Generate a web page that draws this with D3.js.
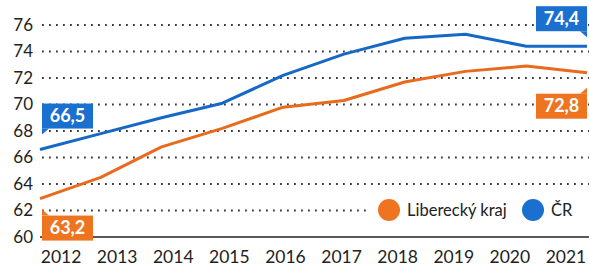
<!DOCTYPE html>
<html>
<head>
<meta charset="utf-8">
<script src="https://cdn.jsdelivr.net/npm/d3@7"></script>
<style>
  html, body { margin: 0; padding: 0; background: #fff; }
  svg { display: block; font-family: Lato, "Liberation Sans", sans-serif; }
</style>
</head>
<body>
<svg id="chart" width="589" height="268"></svg>
<script>
const years      = [2012, 2013, 2014, 2015, 2016, 2017, 2018, 2019, 2020, 2021];
const liberecky  = [62.9, 64.5, 66.8, 68.2, 69.8, 70.3, 71.7, 72.5, 72.9, 72.4];
const cr         = [66.6, 67.8, 69.0, 70.1, 72.2, 73.8, 75.0, 75.3, 74.4, 74.4];
const yTicks     = [60, 62, 64, 66, 68, 70, 72, 74, 76];
const seriesNames = ['Liberecký kraj', 'ČR'];
const startLabels = ['63,2', '66,5'];
const endLabels   = ['72,8', '74,4'];

(function () {
  const ORANGE = '#ee7420';
  const BLUE   = '#1a6fcf';
  const series = [
    { name: seriesNames[0], values: liberecky, color: ORANGE, line: '#e86a1c' },
    { name: seriesNames[1], values: cr,        color: BLUE,   line: '#1668c8' }
  ];

  const svg = d3.select('#chart');

  // lines are spread across the plot, year labels sit in even bands
  const x = d3.scalePoint().domain(years).range([40, 587]);
  const xLab = d3.scaleBand().domain(years).range([33, 594]);
  const y = d3.scaleLinear().domain([60, 76]).range([237, 25]);

  // dotted grid
  svg.append('g')
    .selectAll('line')
    .data(yTicks.filter(d => d > 60))
    .join('line')
    .attr('x1', 42).attr('x2', 589)
    .attr('y1', d => y(d)).attr('y2', d => y(d))
    .attr('stroke', '#3a3a3a')
    .attr('stroke-width', 1.8)
    .attr('stroke-dasharray', '1.8,5.2');

  // baseline
  svg.append('line')
    .attr('x1', 40).attr('x2', 589)
    .attr('y1', y(60)).attr('y2', y(60))
    .attr('stroke', '#222')
    .attr('stroke-width', 1.5);

  // y axis labels
  const yAxis = svg.append('g')
    .attr('transform', 'translate(33,0)')
    .call(d3.axisLeft(y).tickValues(yTicks).tickSize(0).tickPadding(0));
  yAxis.select('.domain').remove();
  yAxis.selectAll('text')
    .attr('fill', '#222')
    .attr('font-size', '17px')
    .attr('font-family', 'Lato, sans-serif');

  // x axis labels
  const xAxis = svg.append('g')
    .attr('transform', 'translate(0,251)')
    .call(d3.axisBottom(xLab).tickSize(0).tickPadding(0));
  xAxis.select('.domain').remove();
  xAxis.selectAll('text')
    .attr('fill', '#222')
    .attr('font-size', '17.5px')
    .attr('font-family', 'Lato, sans-serif');

  // legend, with a white patch behind it
  const legend = svg.append('g');
  legend.append('rect')
    .attr('x', 370).attr('y', 198).attr('width', 219).attr('height', 26)
    .attr('fill', '#fff');
  const legendX = [389, 533];
  series.forEach((s, i) => {
    legend.append('circle')
      .attr('cx', legendX[i]).attr('cy', 210).attr('r', 11)
      .attr('fill', s.color);
    legend.append('text')
      .attr('x', legendX[i] + 18).attr('y', 216)
      .attr('fill', '#222')
      .attr('font-size', '16.5px')
      .text(s.name);
  });

  // series lines
  const line = d3.line()
    .x((d, i) => x(years[i]))
    .y(d => y(d));

  series.forEach(s => {
    svg.append('path').datum(s.values)
      .attr('fill', 'none')
      .attr('stroke', s.line)
      .attr('stroke-width', 3)
      .attr('stroke-linejoin', 'round')
      .attr('d', line);
  });

  // value callouts: boxes with a small corner tail
  const boxW = 51, boxH = 25, tail = 6;
  function callout(s, idx, text, above, gap) {
    const px = x(years[idx]);
    const py = y(s.values[idx]);
    const atEnd = idx === years.length - 1;
    const bx = atEnd ? px - boxW : px + 2;
    const by = above ? py - gap - boxH : py + gap;
    const g = svg.append('g');
    const cx = atEnd ? bx + boxW : bx;
    const dir = atEnd ? -1 : 1;
    const ty = above ? by + boxH : by;
    const tdy = above ? tail : -tail;
    g.append('rect')
      .attr('x', bx).attr('y', by)
      .attr('width', boxW).attr('height', boxH)
      .attr('fill', s.color);
    g.append('path')
      .attr('d', `M${cx},${ty} L${cx},${ty + tdy} L${cx + dir * 7},${ty} Z`)
      .attr('fill', s.color);
    g.append('text')
      .attr('x', bx + boxW / 2).attr('y', by + boxH / 2 + 6)
      .attr('text-anchor', 'middle')
      .attr('fill', '#fff')
      .attr('font-size', '18px')
      .attr('font-weight', 'bold')
      .text(text);
  }

  callout(series[0], 0, startLabels[0], false, 17);
  callout(series[1], 0, startLabels[1], true, 21);
  callout(series[0], years.length - 1, endLabels[0], false, 21);
  callout(series[1], years.length - 1, endLabels[1], true, 15);
})();
</script>
</body>
</html>
